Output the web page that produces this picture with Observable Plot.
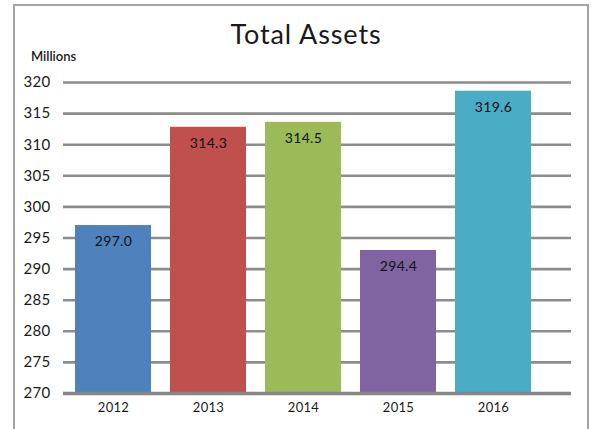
<!DOCTYPE html>
<html>
<head>
<meta charset="utf-8">
<script src="https://cdn.jsdelivr.net/npm/d3@7"></script>
<script src="https://cdn.jsdelivr.net/npm/@observablehq/plot@0.6"></script>
<style>
  html, body { margin: 0; padding: 0; background: #fff; }
  #wrap { position: relative; width: 592px; height: 429px; overflow: hidden; font-family: Lato, "Open Sans", sans-serif; }
  #frame { position: absolute; left: 13px; top: 4px; width: 576px; height: 440px; border: 2px solid #a3a3a3; box-sizing: border-box; }
  #title { position: absolute; left: 0; width: 612px; top: 17px; text-align: center; font-size: 27px; letter-spacing: 0.9px; color: #1a1a1a; font-weight: 400; }
  #unit { position: absolute; left: 31px; top: 48px; font-size: 13px; color: #1a1a1a; font-weight: 600; }
  #chart { position: absolute; left: 0; top: 0; }
  #chart text { letter-spacing: 0.3px; }
</style>
</head>
<body>
<div id="wrap">
  <div id="frame"></div>
  <div id="title">Total Assets</div>
  <div id="unit">Millions</div>
  <div id="chart"></div>
</div>
<script>
const years = ["2012", "2013", "2014", "2015", "2016"];
const values = [297.0, 312.8, 313.6, 293.0, 318.6];   // bar heights as drawn
const labels = ["297.0", "314.3", "314.5", "294.4", "319.6"]; // printed data labels
const colors = ["#4F81BD", "#C0504D", "#9BBB59", "#8064A2", "#4BACC6"];
const yTicks = [270, 275, 280, 285, 290, 295, 300, 305, 310, 315, 320];

const data = years.map((year, i) => ({year, value: values[i], label: labels[i]}));

const chart = Plot.plot({
  width: 592,
  height: 429,
  marginTop: 82,
  marginBottom: 36,
  marginLeft: 63,
  marginRight: 21,
  style: {fontFamily: "Lato, 'Open Sans', sans-serif", background: "transparent", color: "#1a1a1a"},
  x: {domain: years, range: [55, 551], padding: 0.2, label: null},
  y: {domain: [yTicks[0], yTicks[yTicks.length - 1]], label: null},
  color: {domain: years, range: colors},
  marks: [
    Plot.ruleY(yTicks.slice(1), {stroke: "#8c8c8c", strokeWidth: 2.6}),
    Plot.barY(data, {x: "year", y1: yTicks[0], y2: "value", fill: "year"}),
    Plot.ruleY([yTicks[0]], {stroke: "#868686", strokeWidth: 3.5}),
    Plot.text(data, {x: "year", y: "value", text: "label", dy: 16, fontSize: 14, fill: "#111"}),
    Plot.axisY({ticks: yTicks, tickSize: 0, tickPadding: 13, fontSize: 15, tickFormat: d => String(d)}),
    Plot.axisX({tickSize: 0, tickPadding: 9, fontSize: 13})
  ]
});
document.getElementById("chart").appendChild(chart);
</script>
</body>
</html>
